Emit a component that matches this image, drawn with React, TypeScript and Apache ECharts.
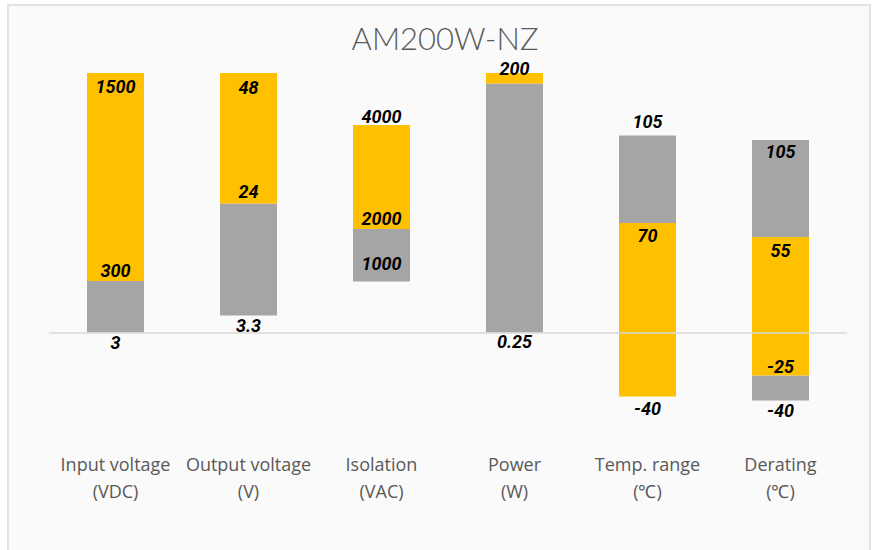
import React, { useEffect, useRef } from "react";
import * as echarts from "echarts";

// Categories (x axis)
const categories = [
  "Input voltage\n(VDC)",
  "Output voltage\n(V)",
  "Isolation\n(VAC)",
  "Power\n(W)",
  "Temp. range\n(\u2103)",
  "Derating\n(\u2103)",
];

// Gray segments: category index, low, high (visual chart units)
const grayCat = [0, 1, 2, 3, 4, 5, 5];
const grayLow = [0, 17, 51, 0, 109.5, -68, 95.5];
const grayHigh = [51.5, 129, 103.5, 249, 197, -43, 192.5];

// Yellow segments: category index, low, high
const yellowCat = [0, 1, 2, 3, 4, 5];
const yellowLow = [51.5, 129, 103.5, 249, -64, -43];
const yellowHigh = [259.5, 259.5, 207.5, 259.5, 109.5, 95.5];

// Value labels: category index, position, text
const labelCat = [0, 0, 0, 1, 1, 1, 2, 2, 2, 3, 3, 4, 4, 4, 5, 5, 5, 5];
const labelPos = [246.5, 62.5, -10, 245.5, 141, 7, 216, 114, 69, 264.5, -8.5, 211, 97.5, -76, 181, 82.5, -34, -77.5];
const labelText = ["1500", "300", "3", "48", "24", "3.3", "4000", "2000", "1000", "200", "0.25", "105", "70", "-40", "105", "55", "-25", "-40"];

const TITLE = "AM200W-NZ";
const GRAY = "#A5A5A5";
const YELLOW = "#FFC000";
const BAR_RATIO = 57 / 133;

function barRender(color: string) {
  return (params: any, api: any) => {
    const cat = api.value(0);
    const lo = api.value(1);
    const hi = api.value(2);
    const pTop = api.coord([cat, hi]);
    const pBot = api.coord([cat, lo]);
    const w = api.size([1, 0])[0] * BAR_RATIO;
    return {
      type: "rect",
      shape: { x: pTop[0] - w / 2, y: pTop[1], width: w, height: pBot[1] - pTop[1] },
      style: { fill: color },
    };
  };
}

export default function App() {
  const ref = useRef<HTMLDivElement>(null);
  useEffect(() => {
    if (!ref.current) return;
    const chart = echarts.init(ref.current, null, { renderer: "svg" });
    const grayData = grayCat.map((c, i) => [c, grayLow[i], grayHigh[i]]);
    const yellowData = yellowCat.map((c, i) => [c, yellowLow[i], yellowHigh[i]]);
    const labelData = labelCat.map((c, i) => [c, labelPos[i]]);
    chart.setOption({
      animation: false,
      backgroundColor: "#ffffff",
      graphic: [
        {
          type: "rect",
          z: -10,
          shape: { x: 8, y: 5, width: 862, height: 560 },
          style: { fill: "#fafafa", stroke: "#e3e3e3", lineWidth: 2 },
          silent: true,
        },
        {
          type: "text",
          x: 445,
          y: 38,
          style: {
            text: TITLE,
            fill: "#595959",
            fontSize: 31,
            lineHeight: 28,
            fontWeight: 300,
            fontFamily: "Lato, 'Open Sans', sans-serif",
            textAlign: "center",
            textVerticalAlign: "middle",
          },
        },
      ],
      grid: { left: 49, right: 28, top: 62.5, height: 360 },
      xAxis: {
        type: "category",
        data: categories,
        boundaryGap: true,
        axisLine: { show: false },
        axisTick: { show: false },
        axisLabel: {
          margin: 28,
          color: "#595959",
          fontSize: 18,
          lineHeight: 27,
          fontFamily: "'Open Sans', sans-serif",
          interval: 0,
        },
      },
      yAxis: {
        type: "value",
        min: -90,
        max: 270,
        show: false,
        splitLine: { show: false },
      },
      series: [
        {
          type: "custom",
          name: "gray",
          renderItem: barRender(GRAY),
          data: grayData,
          encode: { x: 0, y: [1, 2] },
          markLine: {
            silent: true,
            symbol: "none",
            label: { show: false },
            lineStyle: { color: "#d9d9d9", width: 1.5, type: "solid" },
            data: [{ yAxis: 0 }],
          },
        },
        {
          type: "custom",
          name: "yellow",
          renderItem: barRender(YELLOW),
          data: yellowData,
          encode: { x: 0, y: [1, 2] },
        },
        {
          type: "custom",
          name: "labels",
          z: 10,
          renderItem: (params: any, api: any) => {
            const p = api.coord([api.value(0), api.value(1)]);
            return {
              type: "text",
              x: p[0],
              y: p[1],
              style: {
                text: labelText[params.dataIndex],
                fill: "#000000",
                fontSize: 18,
                lineHeight: 16,
                fontWeight: "bold",
                fontStyle: "italic",
                fontFamily: "Roboto, sans-serif",
                textAlign: "center",
                textVerticalAlign: "middle",
              },
            };
          },
          data: labelData,
          encode: { x: 0, y: 1 },
          clip: false,
        },
      ],
    });
    return () => chart.dispose();
  }, []);
  return (
    <div
      ref={ref}
      style={{ position: "fixed", left: 0, top: 0, width: 875, height: 550 }}
    />
  );
}
